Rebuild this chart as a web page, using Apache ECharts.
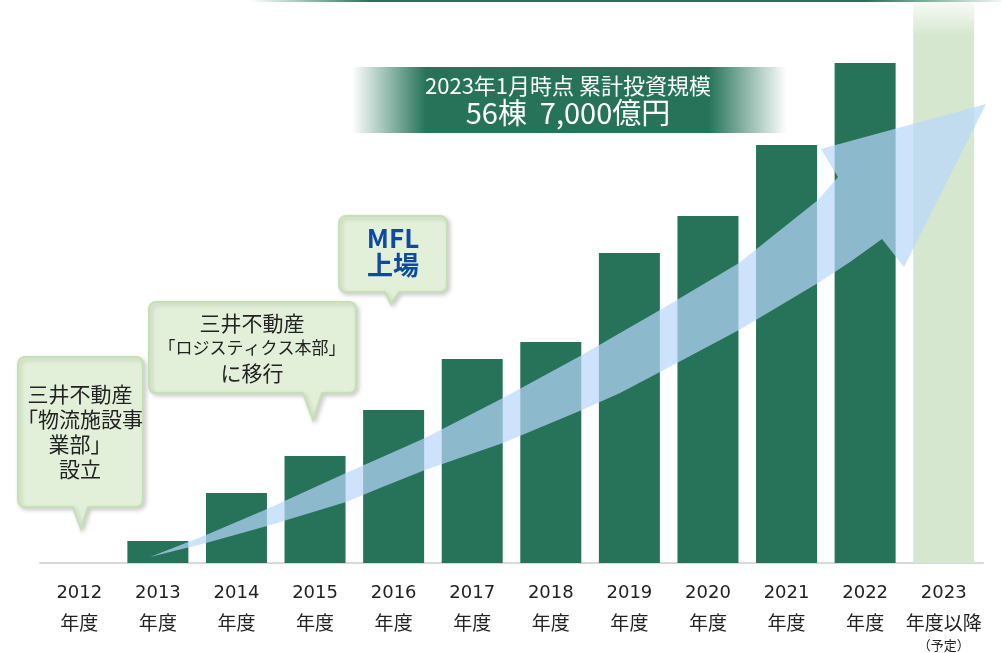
<!DOCTYPE html>
<html>
<head>
    <meta charset="UTF-8">
    <title>物流施設 累計投資規模</title>
</head>
<body style="margin: 0;overflow: hidden;background: #fff;width: 100%;height:100%">
<div id="main" style="width: 1002px;height:653px"></div>

<script type="text/javascript" src="https://cdn.jsdelivr.net/npm/echarts@6.0.0/dist/echarts.min.js"></script>
<script type="text/javascript">
    // 年度と累計投資（相対値、図から読み取り）
    var years = ['2012', '2013', '2014', '2015', '2016', '2017', '2018', '2019', '2020', '2021', '2022', '2023'];
    var yearSuffix = ['年度', '年度', '年度', '年度', '年度', '年度', '年度', '年度', '年度', '年度', '年度', '年度以降'];
    var planNote = '（予定）';
    var investment = [0, 22, 70, 107, 153, 204, 221, 310, 347, 418, 500, 561];
    var planIndex = 11;

    var bannerLines = ['2023年1月時点 累計投資規模', '56棟  7,000億円'];
    var note1 = '三井不動産\n「物流施設事\n業部」\n設立';
    var note2a = '三井不動産';
    var note2b = '「ロジスティクス本部」';
    var note2c = 'に移行';
    var note3 = 'MFL\n上場';

    var green = '#26735a';
    var paleGreen = '#d5e8cf';

    var chart = echarts.init(document.getElementById('main'));

    // 角丸の吹き出し（下向きのしっぽ付き）を多角形の点列で作る
    function bubblePoints(x, y, w, h, r, t1, t2, tx, ty) {
        var pts = [];
        function corner(cx, cy, a0) {
            for (var k = 0; k <= 6; k++) {
                var a = (a0 + k * 15) * Math.PI / 180;
                pts.push([cx + r * Math.cos(a), cy + r * Math.sin(a)]);
            }
        }
        corner(x + r, y + r, 180);
        corner(x + w - r, y + r, 270);
        corner(x + w - r, y + h - r, 0);
        pts.push([t2, y + h], [tx, ty], [t1, y + h]);
        corner(x + r, y + h - r, 90);
        return pts;
    }

    var bubbleStyle = {
        fill: '#e2f0d9',
        stroke: '#c5e0b4',
        lineWidth: 2,
        shadowBlur: 4,
        shadowOffsetX: 2,
        shadowOffsetY: 2,
        shadowColor: 'rgba(0,0,0,0.18)'
    };
    var cjk = '"Noto Sans CJK JP", sans-serif';
    var latin = '"DejaVu Sans", sans-serif';

    // 成長を示す矢印（装飾）
    var arrowPts = [
        [150, 557], [206, 535], [267, 509], [346, 473], [380, 458], [425, 438], [503, 398],
        [582, 355], [620, 333], [660, 310], [739, 263], [818, 200], [838, 177],
        [821, 149], [986, 104], [904, 267], [882, 239],
        [850, 262], [818, 283], [739, 330], [660, 372], [620, 393], [582, 410], [503, 443],
        [425, 470], [380, 488], [346, 502], [267, 526], [206, 543], [150, 557]
    ];

    var barData = investment.map(function (v, i) {
        if (i === planIndex) {
            return {
                value: v,
                itemStyle: {
                    color: new echarts.graphic.LinearGradient(0, 0, 0, 1, [
                        {offset: 0, color: '#f7faf5'},
                        {offset: 0.06, color: paleGreen},
                        {offset: 1, color: paleGreen}
                    ])
                }
            };
        }
        return v;
    });

    var option = {
        animation: false,
        backgroundColor: '#fff',
        grid: {
            left: 40,
            right: 19,
            top: 2,
            bottom: 90,
            containLabel: false,
            outerBoundsMode: 'none'
        },
        xAxis: {
            type: 'category',
            data: years,
            axisLine: {lineStyle: {color: '#d9d9d9', width: 2}},
            axisTick: {show: false},
            axisLabel: {
                interval: 0,
                margin: 15,
                formatter: function (v, i) {
                    var s = '{y|' + v + '}\n{n|' + yearSuffix[i] + '}';
                    if (i === planIndex) {
                        s += '\n{s|' + planNote + '}';
                    }
                    return s;
                },
                rich: {
                    y: {fontSize: 18, lineHeight: 30, color: '#222', fontFamily: latin},
                    n: {fontSize: 19, lineHeight: 30, color: '#222', fontFamily: cjk},
                    s: {fontSize: 13, lineHeight: 14, color: '#222', fontFamily: cjk}
                }
            }
        },
        yAxis: {
            type: 'value',
            show: false,
            min: 0,
            max: 561
        },
        series: [{
            type: 'bar',
            data: barData,
            barWidth: 61,
            itemStyle: {color: green}
        }],
        graphic: [
            {
                type: 'rect',
                shape: {x: 250, y: 0, width: 752, height: 2},
                style: {
                    fill: new echarts.graphic.LinearGradient(0, 0, 1, 0, [
                        {offset: 0, color: 'rgba(38,115,90,0)'},
                        {offset: 0.16, color: green},
                        {offset: 0.82, color: green},
                        {offset: 1, color: 'rgba(38,115,90,0.05)'}
                    ])
                },
                z: 50
            },
            {
                type: 'polygon',
                shape: {points: arrowPts},
                style: {fill: 'rgba(184,215,251,0.7)'},
                z: 100
            },
            {
                type: 'rect',
                shape: {x: 352, y: 67, width: 435, height: 66},
                style: {
                    fill: new echarts.graphic.LinearGradient(0, 0, 1, 0, [
                        {offset: 0, color: 'rgba(38,115,90,0)'},
                        {offset: 0.17, color: green},
                        {offset: 0.82, color: green},
                        {offset: 1, color: 'rgba(38,115,90,0)'}
                    ])
                },
                z: 110
            },
            {
                type: 'text',
                x: 568, y: 86,
                style: {
                    text: bannerLines[0], fill: '#fff', font: '22px ' + cjk,
                    textAlign: 'center', textVerticalAlign: 'middle'
                },
                z: 111
            },
            {
                type: 'text',
                x: 568, y: 113,
                style: {
                    text: bannerLines[1], fill: '#fff', font: '29px ' + cjk,
                    textAlign: 'center', textVerticalAlign: 'middle'
                },
                z: 111
            },
            {
                type: 'polygon',
                shape: {points: bubblePoints(18, 357, 125, 150, 7, 73, 88, 81, 529)},
                style: bubbleStyle,
                z: 120
            },
            {
                type: 'text',
                x: 80, y: 432,
                style: {
                    text: note1, fill: '#222', font: '21px ' + cjk, lineHeight: 25,
                    textAlign: 'center', textVerticalAlign: 'middle'
                },
                z: 121
            },
            {
                type: 'polygon',
                shape: {points: bubblePoints(149, 302, 207, 91, 7, 303, 322, 313, 420)},
                style: bubbleStyle,
                z: 120
            },
            {
                type: 'text', x: 252, y: 323,
                style: {text: note2a, fill: '#222', font: '21px ' + cjk, textAlign: 'center', textVerticalAlign: 'middle'},
                z: 121
            },
            {
                type: 'text', x: 252, y: 348,
                style: {text: note2b, fill: '#222', font: '17px ' + cjk, textAlign: 'center', textVerticalAlign: 'middle'},
                z: 121
            },
            {
                type: 'text', x: 252, y: 373,
                style: {text: note2c, fill: '#222', font: '21px ' + cjk, textAlign: 'center', textVerticalAlign: 'middle'},
                z: 121
            },
            {
                type: 'polygon',
                shape: {points: bubblePoints(339, 216, 108, 76, 7, 385, 399, 391, 304)},
                style: bubbleStyle,
                z: 120
            },
            {
                type: 'text',
                x: 393, y: 252,
                style: {
                    text: note3, fill: '#0e4ba0', font: 'bold 26px ' + cjk, lineHeight: 27,
                    textAlign: 'center', textVerticalAlign: 'middle'
                },
                z: 121
            }
        ]
    };
    chart.setOption(option);
</script>
</body>
</html>
